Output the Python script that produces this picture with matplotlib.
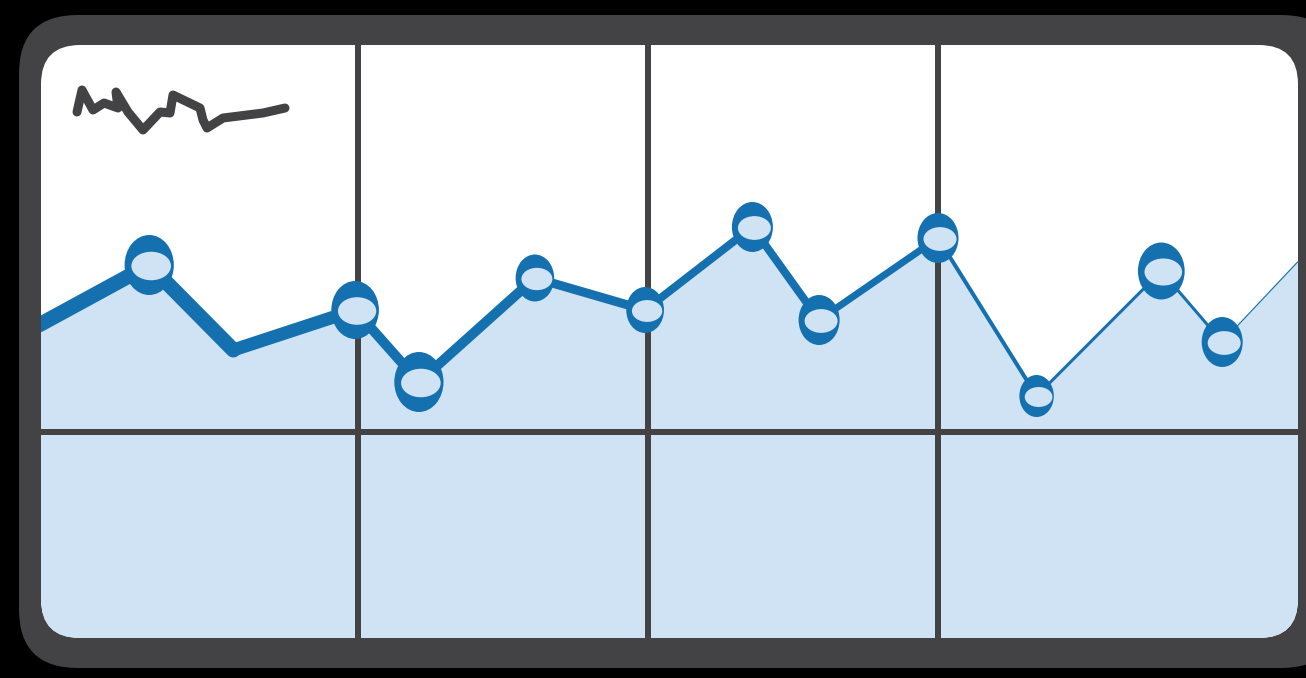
import matplotlib
matplotlib.use("Agg")
import matplotlib.pyplot as plt
import numpy as np
from matplotlib.patches import FancyBboxPatch
from matplotlib.collections import LineCollection
from matplotlib.lines import Line2D
from matplotlib.path import Path
from matplotlib.transforms import Affine2D, offset_copy

# series (grid lines sit at x = 1, 2, 3 and y = 0)
xs = [-0.10, 0.28, 0.57, 0.99, 1.21, 1.61, 1.99, 2.36, 2.59, 3.00, 3.34, 3.77, 3.98, 4.24]
ys = [1.07, 1.67, 0.82, 1.22, 0.50, 1.54, 1.22, 2.05, 1.12, 1.94, 0.36, 1.61, 0.90, 1.70]
# which points carry a marker, and how tall it is (pixels)
marker_px = [0, 60, 0, 58, 60, 47, 46, 50, 50, 50, 42, 57, 50, 0]
# stroke width of each segment, pixels - the line thins out to the right
seg_px = [15, 15, 13, 10, 10, 9, 8, 8, 7, 4, 3, 3, 1.2]
# scribbled "title" in the top left corner (figure pixels, y from top)
scribble = [(77, 112), (82, 90), (93, 110), (104, 103), (118, 108), (116, 92),
            (128, 112), (143, 130), (160, 112), (170, 113), (173, 95), (200, 108),
            (203, 120), (207, 128), (223, 118), (263, 113), (285, 108)]

W, H = 1306, 678
dark = "#434345"
blue = "#1570b0"
light = "#cfe3f4"
pt = 72 / 100  # points per pixel

fig = plt.figure(figsize=(W / 100, H / 100), dpi=100, facecolor="black")

def fx(px):
    return px / W

def fy(py):
    return 1 - py / H

# outer frame
frame = FancyBboxPatch((fx(19), fy(668)), fx(1340) - fx(19), fy(15) - fy(668),
                       boxstyle="round,pad=0,rounding_size=0.045",
                       transform=fig.transFigure, facecolor=dark, edgecolor="none",
                       mutation_aspect=W / H, zorder=-3)
fig.add_artist(frame)

# inner panel
left, right, top, bottom = 41, 1298, 45, 638
panel = FancyBboxPatch((fx(left), fy(bottom)), fx(right) - fx(left), fy(top) - fy(bottom),
                       boxstyle="round,pad=0,rounding_size=0.03",
                       transform=fig.transFigure, facecolor="white", edgecolor="none",
                       mutation_aspect=W / H, zorder=-2)
fig.add_artist(panel)

ax = fig.add_axes([fx(left), fy(bottom), fx(right) - fx(left), fy(top) - fy(bottom)])
ax.patch.set_visible(False)
ax.set_xlim((left - 68) / 290, (right - 68) / 290)
ax.set_ylim((432 - bottom) / 100, (432 - top) / 100)
for s in ax.spines.values():
    s.set_visible(False)
ax.set_xticks([])
ax.set_yticks([])

# area under the line
fill = ax.fill_between(xs, ys, -3, color=light, lw=0, zorder=1)
fill.set_clip_path(panel)

# grid
for gx in [1, 2, 3]:
    g = ax.axvline(gx, color=dark, lw=6 * pt, zorder=2)
    g.set_clip_path(panel)
g = ax.axhline(0, color=dark, lw=6 * pt, zorder=2)
g.set_clip_path(panel)

# line with tapering width
pts = np.column_stack([xs, ys])
segs = [pts[i:i + 2] for i in range(len(pts) - 1)]
lc = LineCollection(segs, colors=blue, linewidths=[w * pt for w in seg_px],
                    capstyle="round", joinstyle="round", zorder=3)
lc.set_clip_path(panel)
ax.add_collection(lc)

# markers: dark blue egg with a pale highlight
outer = Path.unit_circle().transformed(Affine2D().scale(0.82, 1.0))
inner = Path.unit_circle().transformed(Affine2D().scale(1.0, 0.72))
mx = [x for x, m in zip(xs, marker_px) if m]
my = [y for y, m in zip(ys, marker_px) if m]
mh = np.array([m for m in marker_px if m])
ax.scatter(mx, my, s=(mh * pt) ** 2, marker=outer, color=blue, lw=0, zorder=4)
shift = offset_copy(ax.transData, fig=fig, x=2, y=-1, units="dots")
ax.scatter(mx, my, s=(mh * 0.66 * pt) ** 2, marker=inner, color=light, lw=0,
           zorder=5, transform=shift)

# scribble
sx = [fx(p[0]) for p in scribble]
sy = [fy(p[1]) for p in scribble]
fig.add_artist(Line2D(sx, sy, transform=fig.transFigure, color=dark, lw=9 * pt,
                      solid_capstyle="round", solid_joinstyle="round", zorder=6))

fig.savefig("out.png", dpi=100, facecolor="black")
